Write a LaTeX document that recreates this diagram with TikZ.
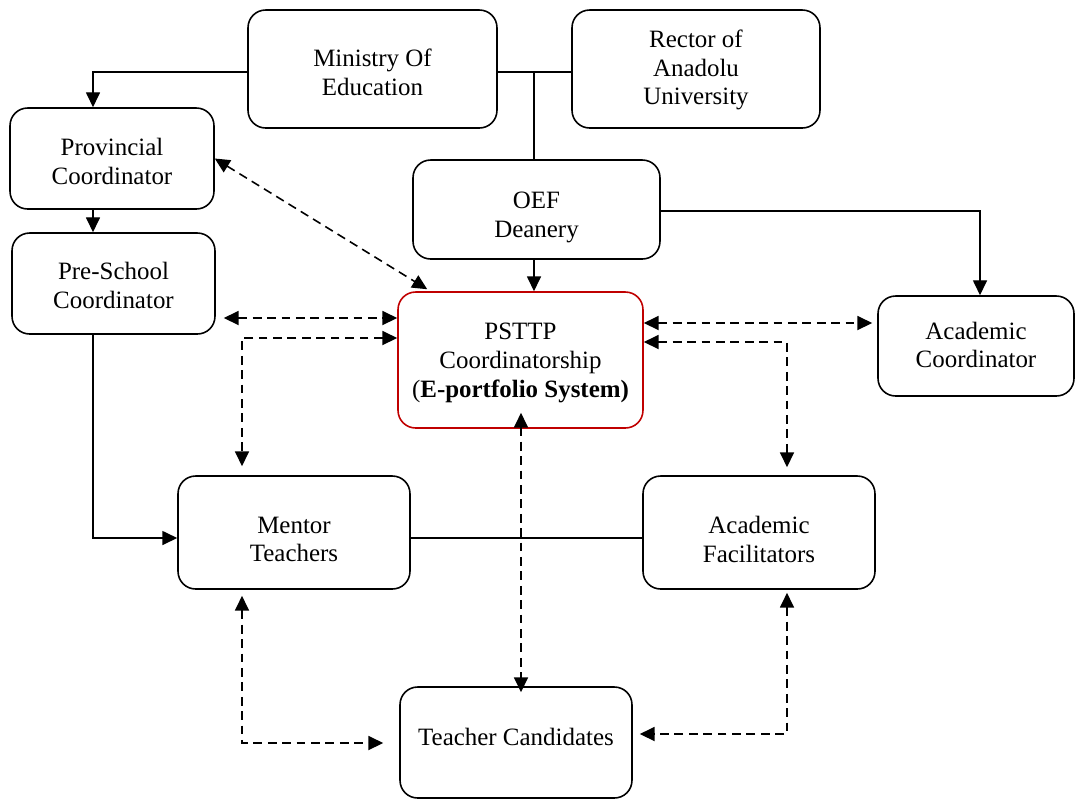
\documentclass[tikz,border=0pt]{standalone}
\usepackage{fontspec}
\setmainfont{Liberation Serif}
\usetikzlibrary{arrows.meta}
\definecolor{boxred}{HTML}{C00000}
\begin{document}
\begin{tikzpicture}[x=0.02cm,y=-0.02cm,
  box/.style={draw, line width=0.9pt, rounded corners=10pt, inner sep=0pt},
  txt/.style={align=center, inner sep=0pt, font=\fontsize{14.2}{16.4}\selectfont},
  conn/.style={line width=0.8pt},
  tip/.tip={Triangle[length=8.5pt,width=8pt]},
  arr/.style={conn, -tip},
  darr/.style={conn, line width=0.9pt, dash pattern=on 5pt off 3.2pt, tip-tip}]
\useasboundingbox (0,0) rectangle (1075,799);

\node[box, minimum width=4.98cm, minimum height=2.36cm,
  label={[txt, yshift=-0.06cm]center:Ministry Of\\Education}] (moe) at (372.5,69) {};
\node[box, minimum width=4.96cm, minimum height=2.36cm,
  label={[txt, yshift=-0.02cm]center:Rector of\\Anadolu\\University}] (rector) at (696,69) {};
\node[box, minimum width=4.08cm, minimum height=2.02cm,
  label={[txt, yshift=-0.06cm]center:Provincial\\Coordinator}] (prov) at (112,158.5) {};
\node[box, minimum width=4.94cm, minimum height=1.98cm,
  label={[txt, yshift=-0.16cm]center:OEF\\Deanery}] (oef) at (536.5,209.5) {};
\node[box, minimum width=4.06cm, minimum height=2.02cm,
  label={[txt, yshift=-0.04cm]center:Pre-School\\Coordinator}] (pre) at (113.5,283.5) {};
\node[box, draw=boxred, minimum width=4.9cm, minimum height=2.72cm,
  label={[txt, yshift=-0.06cm]center:PSTTP\\Coordinatorship\\(\textbf{E-portfolio System)}}] (psttp) at (520.5,360) {};
\node[box, minimum width=3.92cm, minimum height=2.0cm,
  label={[txt, yshift=0.02cm]center:Academic\\Coordinator}] (ac) at (976,346) {};
\node[box, minimum width=4.64cm, minimum height=2.26cm,
  label={[txt, yshift=-0.14cm]center:Mentor\\Teachers}] (mentor) at (294,532.5) {};
\node[box, minimum width=4.64cm, minimum height=2.26cm,
  label={[txt, yshift=-0.14cm]center:Academic\\Facilitators}] (af) at (759,532.5) {};
\node[box, minimum width=4.64cm, minimum height=2.22cm,
  label={[txt, yshift=0.12cm]center:Teacher Candidates}] (tc) at (516,742.5) {};

\coordinate (j1) at (93,72);
\coordinate (j2) at (534,72);
\coordinate (j3) at (980,211);
\coordinate (j4) at (93,538);
\coordinate (d1) at (0,318);
\coordinate (d2) at (242,338);
\coordinate (d3) at (0,323);
\coordinate (d4) at (787,342);
\coordinate (d5) at (521,0);
\coordinate (d6) at (242,743);
\coordinate (d7) at (787,734);

\draw[arr] (moe.west |- j1) -| (prov.north -| j1);
\draw[arr] (prov.south -| j1) -- (pre.north -| j1);
\draw[conn] (moe.east |- j1) -- (rector.west |- j1);
\draw[conn] (j2) -- (oef.north -| j2);
\draw[arr] (oef.south -| j2) -- (psttp.north -| j2);
\draw[arr] (oef.east |- j3) -| (ac.north -| j3);
\draw[arr] (pre.south -| j4) |- (mentor.west |- j4);
\draw[conn] (mentor.east |- j4) -- (af.west |- j4);

\draw[darr] (prov.east) -- ([shift={(30,-2)}]psttp.north west);
\draw[darr, shorten <=0.16cm] (pre.east |- d1) -- (psttp.west |- d1);
\draw[darr, shorten >=0.18cm] (psttp.west |- d2) -| (mentor.north -| d2);
\draw[darr, shorten >=0.1cm] (psttp.east |- d3) -- (ac.west |- d3);
\draw[darr, shorten >=0.16cm] (psttp.east |- d4) -| (af.north -| d4);
\draw[darr, shorten <=-0.32cm, shorten >=-0.12cm] (psttp.south -| d5) -- (tc.north -| d5);
\draw[darr, shorten <=0.12cm, shorten >=0.32cm] (mentor.south -| d6) |- (tc.west |- d6);
\draw[darr, shorten <=0.06cm, shorten >=0.14cm] (af.south -| d7) |- (tc.east |- d7);
\end{tikzpicture}
\end{document}
